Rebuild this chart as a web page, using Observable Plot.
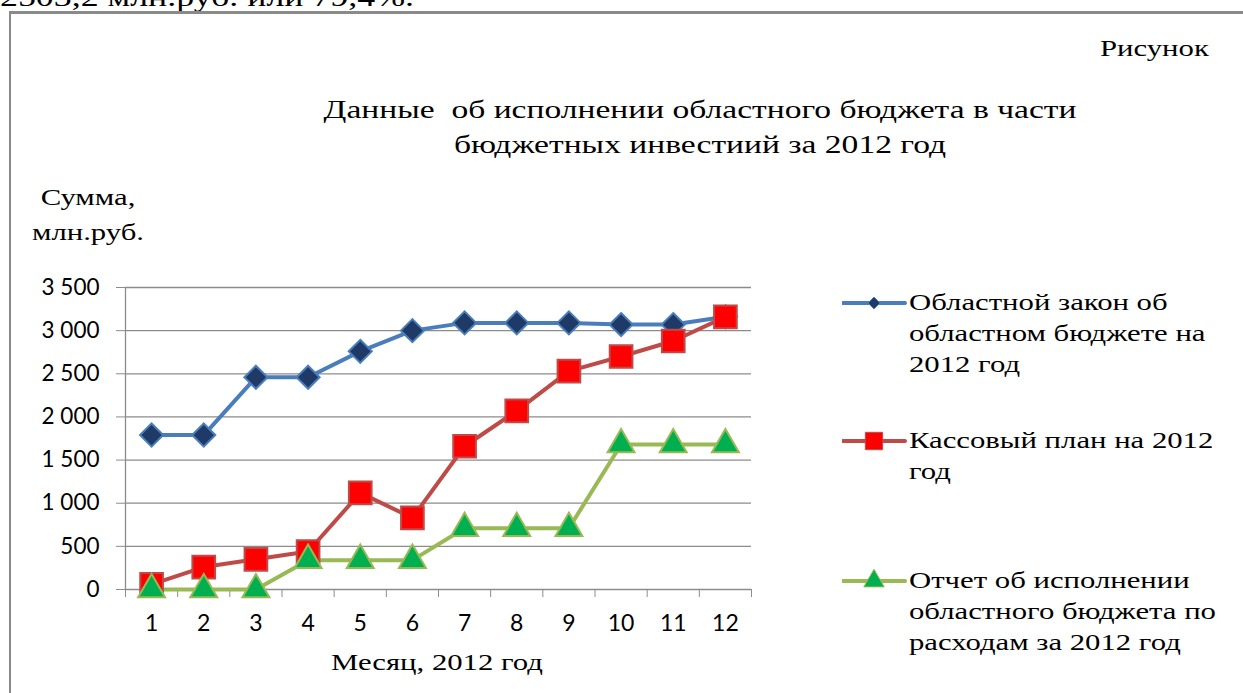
<!DOCTYPE html>
<html>
<head>
<meta charset="utf-8">
<script src="https://cdn.jsdelivr.net/npm/d3@7"></script>
<script src="https://cdn.jsdelivr.net/npm/@observablehq/plot@0.6"></script>
<style>
  html, body { margin: 0; padding: 0; background: #fff; overflow: hidden; }
  #page { position: relative; width: 1243px; height: 693px; overflow: hidden; font-family: "Liberation Serif", "Times New Roman", "DejaVu Serif", serif; color: #000; }
  .t { position: absolute; white-space: pre; line-height: 1; transform: scaleX(1.28); transform-origin: center center; }
  .tl { transform-origin: left center; }
  #frame { position: absolute; left: 9px; top: 11px; width: 1300px; height: 800px; border-left: 2px solid #8a8a8a; border-top: 3px solid #8a8a8a; }
  #chart { position: absolute; left: 0; top: 260px; }
  .leg { position: absolute; left: 842px; }
  .leg svg { position: absolute; left: 0; top: 0; }
  .leg .lt { position: absolute; left: 67px; top: 0; font-size: 24px; line-height: 31px; white-space: pre; transform: scaleX(1.28); transform-origin: left center; }
</style>
</head>
<body>
<div id="page">
  <div class="t tl" style="left:0px; top:-17px; font-size:28px;">2503,2 млн.руб. или 79,4%.</div>
  <div id="frame"></div>
  <div class="t tl" style="left:1100px; top:36px; font-size:24px;">Рисунок</div>
  <div class="t" style="left:0; width:1400px; top:97px; font-size:26px; text-align:center; transform: scaleX(1.29);">Данные  об исполнении областного бюджета в части</div>
  <div class="t" style="left:0; width:1400px; top:132px; font-size:26px; text-align:center; transform: scaleX(1.29);">бюджетных инвестиий за 2012 год</div>
  <div class="t" style="left:0; width:176px; top:185px; font-size:24px; text-align:center;">Сумма,</div>
  <div class="t" style="left:0; width:176px; top:220px; font-size:24px; text-align:center;">млн.руб.</div>
  <div class="t" style="left:0; width:874px; top:650px; font-size:24px; text-align:center;">Месяц, 2012 год</div>
  <div id="chart"></div>
  <div id="legend"></div>
</div>
<script>
// ---- data ----
const months = [1, 2, 3, 4, 5, 6, 7, 8, 9, 10, 11, 12];
const lawValues    = [1790, 1790, 2460, 2460, 2760, 3000, 3090, 3090, 3090, 3070, 3070, 3160];
const planValues   = [60, 260, 350, 440, 1120, 830, 1660, 2070, 2530, 2700, 2880, 3160];
const reportValues = [0, 0, 0, 340, 340, 340, 710, 710, 710, 1680, 1680, 1680];
const yTicks = [0, 500, 1000, 1500, 2000, 2500, 3000, 3500];
const seriesNames = [
  "Областной закон об\nобластном бюджете на\n2012 год",
  "Кассовый план на 2012\nгод",
  "Отчет об исполнении\nобластного бюджета по\nрасходам за 2012 год"
];

const styles = [
  {line: "#4a7ebb", fill: "#1f3a66", stroke: "#4a7ebb", symbol: "diamond2", r: 10.4},
  {line: "#be4b48", fill: "#ff0000", stroke: "#be4b48", symbol: "square", r: 12.8},
  {line: "#98b954", fill: "#00b050", stroke: "#98b954", symbol: "triangle", r: 10}
];
const allSeries = [lawValues, planValues, reportValues].map((vals, i) =>
  months.map((m, j) => ({month: m, value: vals[j], series: i}))
);
const boundaries = d3.range(0.5, 13, 1);
const fmt = d => d3.format(",")(d).replace(/,/g, " ");
const grid = "#8c8c8c";

const marks = [
  Plot.gridY(yTicks, {stroke: grid, strokeOpacity: 1, strokeWidth: 1.3, x1: 0.5, x2: 12.5}),
  Plot.ruleX([0.5], {y1: 0, y2: 3500, stroke: grid, strokeWidth: 1.3}),
  Plot.axisY(yTicks, {tickSize: 9, tickPadding: 17, tickFormat: fmt, stroke: grid, fontSize: 22.5, fontFamily: "Lato", fill: "#000", label: null}),
  Plot.axisX(boundaries, {tickSize: 8, tickFormat: () => "", stroke: grid, label: null}),
  Plot.axisX(months, {tickSize: 0, tickPadding: 25, fontSize: 23, fontFamily: "Lato", fill: "#000", label: null})
];
allSeries.forEach((data, i) => {
  const s = styles[i];
  marks.push(Plot.line(data, {x: "month", y: "value", stroke: s.line, strokeWidth: 4, strokeLinejoin: "round"}));
});
allSeries.forEach((data, i) => {
  const s = styles[i];
  marks.push(Plot.dot(data, {x: "month", y: "value", symbol: () => s.symbol, r: s.r, fill: s.fill, stroke: s.stroke, strokeWidth: 2, symbolScale: null}));
});

const chart = Plot.plot({
  width: 770,
  height: 433,
  marginLeft: 125,
  marginRight: 19,
  marginTop: 27,
  marginBottom: 104,
  x: {type: "linear", domain: [0.5, 12.5], axis: null},
  y: {domain: [0, 3500], axis: null},
  symbol: {type: "identity"},
  style: {background: "transparent", overflow: "visible"},
  marks
});
document.getElementById("chart").appendChild(chart);

// ---- legend ----
const legTops = [287, 425, 565];
const legend = document.getElementById("legend");
seriesNames.forEach((name, i) => {
  const s = styles[i];
  const div = document.createElement("div");
  div.className = "leg";
  div.style.top = legTops[i] + "px";
  const svg = d3.create("svg").attr("width", 66).attr("height", 31);
  svg.append("line").attr("x1", 1).attr("x2", 63).attr("y1", 16).attr("y2", 16)
     .attr("stroke", s.line).attr("stroke-width", 4).attr("stroke-linecap", "round");
  const sym = {diamond2: d3.symbolDiamond2, square: d3.symbolSquare, triangle: d3.symbolTriangle}[s.symbol];
  const size = i === 0 ? 90 : i === 1 ? 300 : 180;
  svg.append("path").attr("d", d3.symbol(sym, size)()).attr("transform", "translate(32,16)")
     .attr("fill", s.fill).attr("stroke", s.stroke).attr("stroke-width", 1);
  div.appendChild(svg.node());
  const t = document.createElement("div");
  t.className = "lt";
  t.textContent = name;
  div.appendChild(t);
  legend.appendChild(div);
});
</script>
</body>
</html>
